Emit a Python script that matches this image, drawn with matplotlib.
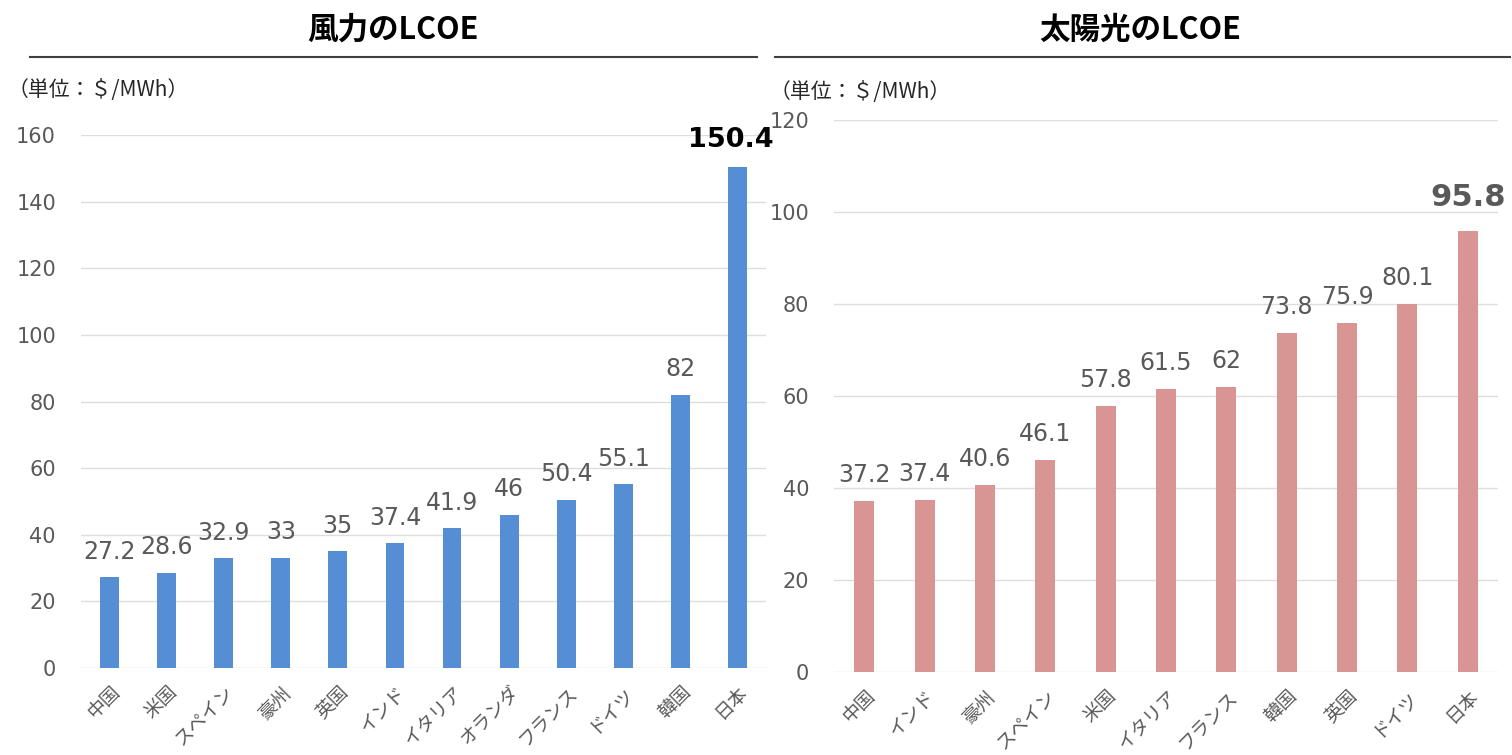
import matplotlib
matplotlib.use('Agg')
import matplotlib.pyplot as plt
from matplotlib.lines import Line2D

plt.rcParams['font.family'] = ['DejaVu Sans', 'Noto Sans CJK JP']

# wind LCOE
wind_countries = ['中国', '米国', 'スペイン', '豪州', '英国', 'インド', 'イタリア',
                  'オランダ', 'フランス', 'ドイツ', '韓国', '日本']
wind_values = [27.2, 28.6, 32.9, 33, 35, 37.4, 41.9, 46, 50.4, 55.1, 82, 150.4]

# solar LCOE
solar_countries = ['中国', 'インド', '豪州', 'スペイン', '米国', 'イタリア', 'フランス',
                   '韓国', '英国', 'ドイツ', '日本']
solar_values = [37.2, 37.4, 40.6, 46.1, 57.8, 61.5, 62, 73.8, 75.9, 80.1, 95.8]

GREY = '#595959'
W, H = 1512, 755

fig = plt.figure(figsize=(15.12, 7.55), dpi=100)


def fx(px):
    return px / W


def fy(py):
    return 1 - py / H


def draw_panel(ax, cats, vals, color, ymax, last_color, last_size, last_off):
    x = range(len(cats))
    ax.bar(x, vals, width=0.33, color=color, zorder=2)
    ax.set_xlim(-0.5, len(cats) - 0.5)
    ax.set_ylim(0, ymax)
    ax.set_yticks(range(0, ymax + 1, 20))
    ax.yaxis.grid(True, color='#DDDDDD', lw=1, zorder=0)
    for s in ax.spines.values():
        s.set_visible(False)
    ax.tick_params(axis='y', length=0, pad=18, labelsize=15, labelcolor=GREY)
    ax.tick_params(axis='x', length=0, pad=10)
    ax.set_xticks(list(x))
    ax.set_xticklabels(cats, rotation=45, ha='right', va='top',
                       rotation_mode='anchor', fontsize=13.5, color=GREY,
                       family=['Noto Sans CJK JP'])
    for i, v in enumerate(vals):
        label = f'{v:g}'
        if i == len(vals) - 1:
            ax.annotate(label, (i, v), xytext=last_off, textcoords='offset points',
                        ha='center', va='bottom', fontsize=last_size,
                        fontweight='bold', color=last_color)
        else:
            ax.annotate(label, (i, v), xytext=(0, 10), textcoords='offset points',
                        ha='center', va='bottom', fontsize=17, color=GREY)


ax1 = fig.add_axes([fx(81), fy(668), fx(766 - 81), (668 - 135) / H])
draw_panel(ax1, wind_countries, wind_values, '#558ED5', 160, 'black', 19.5, (-5, 10))

ax2 = fig.add_axes([fx(834), fy(672), fx(1498 - 834), (672 - 120) / H])
draw_panel(ax2, solar_countries, solar_values, '#D99594', 120, GREY, 22, (0, 14))

# titles with underline
fig.text(fx(393), fy(30), '風力のLCOE', ha='center', va='center', fontsize=22,
         fontweight='bold', family=['Noto Sans CJK JP'])
fig.text(fx(1140), fy(30), '太陽光のLCOE', ha='center', va='center', fontsize=22,
         fontweight='bold', family=['Noto Sans CJK JP'])
fig.add_artist(Line2D([fx(30), fx(757)], [fy(57), fy(57)], color='#404040', lw=1.5))
fig.add_artist(Line2D([fx(775), fx(1510)], [fy(57), fy(57)], color='#404040', lw=1.5))

fig.text(fx(8), fy(90), '（単位：＄/MWh）', ha='left', va='center', fontsize=15,
         color='#262626', family=['Noto Sans CJK JP'])
fig.text(fx(770), fy(92), '（単位：＄/MWh）', ha='left', va='center', fontsize=15,
         color='#262626', family=['Noto Sans CJK JP'])

fig.savefig('out.png', dpi=100, facecolor='white')
